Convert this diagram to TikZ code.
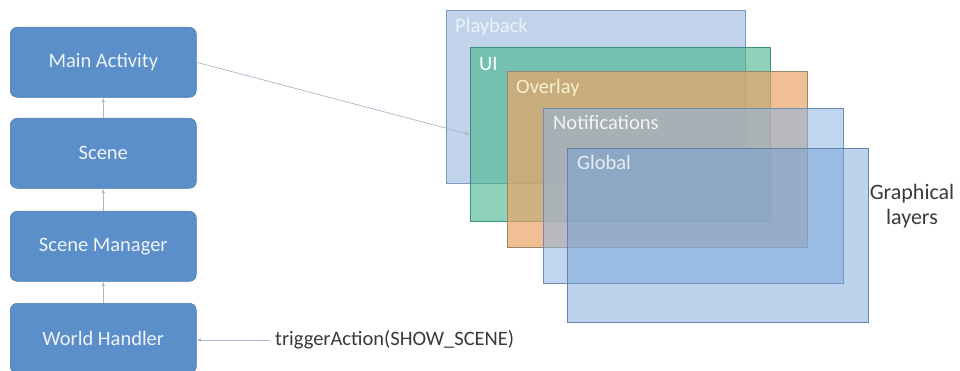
\documentclass[tikz,border=0pt]{standalone}
\usepackage{fontspec}
\setmainfont{Carlito}
\usetikzlibrary{arrows.meta}
\begin{document}
\begin{tikzpicture}[x=1pt,y=-1pt,
  blk/.style={draw=boxedge, fill=boxfill, rounded corners=7pt, line width=0.6pt,
    minimum width=186pt, minimum height=70pt, anchor=north west, inner sep=0pt,
    text=boxtext, font=\fontsize{20.5}{24}\selectfont},
  layer/.style={anchor=north west, inner sep=0pt, line width=1pt},
  lbl/.style={anchor=north west, inner sep=0pt, font=\fontsize{20.5}{24}\selectfont},
  conn/.style={draw=conncol, line width=0.7pt, -{Latex[length=4.5pt,width=3.5pt]}},
  note/.style={text=notecol, font=\fontsize{20.5}{25}\selectfont}
]
\definecolor{boxfill}{HTML}{5B8FC9}
\definecolor{boxedge}{HTML}{4A7AB0}
\definecolor{boxtext}{HTML}{EEF3F9}
\definecolor{conncol}{HTML}{A9B9CC}
\definecolor{notecol}{HTML}{3A3A3A}
\definecolor{pbfill}{HTML}{B7CBE8}
\definecolor{pbedge}{HTML}{7E9BC4}
\definecolor{uifill}{HTML}{45B48C}
\definecolor{uiedge}{HTML}{3C8F7C}
\definecolor{ovfill}{HTML}{EBA466}
\definecolor{ovedge}{HTML}{8E8A6A}
\definecolor{ovtext}{HTML}{F5F0CF}
\definecolor{nofill}{HTML}{8DB4E2}
\definecolor{noedge}{HTML}{6E8DB3}
\definecolor{glfill}{HTML}{6E9FD8}
\definecolor{gledge}{HTML}{5F82AE}
\useasboundingbox (0,0) rectangle (960,371);
\fill[white] (0,0) rectangle (960,371);

% left column
\node[blk] (main) at (10,27) {Main Activity};
\node[blk] (scene) at (10,118) {Scene};
\node[blk] (mgr) at (10,211) {Scene Manager};
\node[blk] (world) at (10,303) {World Handler};

\draw[conn] (scene.north) -- (main.south);
\draw[conn] (mgr.north) -- (scene.south);
\draw[conn] (world.north) -- (mgr.south);

% layers
\node[layer, draw=pbedge, fill=pbfill, fill opacity=0.85, minimum width=299pt, minimum height=173pt] (pb) at (446,10) {};
\node[lbl, text=white, text opacity=0.7] (pbl) at (455,18) {Playback};
\node[layer, draw=uiedge, fill=uifill, fill opacity=0.6, minimum width=300pt, minimum height=174pt] (ui) at (470,47) {};
\node[lbl, text=white] (uil) at (479,57) {UI};
\node[layer, draw=ovedge, fill=ovfill, fill opacity=0.7, minimum width=300pt, minimum height=176pt] (ov) at (507,71) {};
\node[lbl, text=ovtext] (ovl) at (516,79) {Overlay};
\node[layer, draw=noedge, fill=nofill, fill opacity=0.55, minimum width=300pt, minimum height=175pt] (no) at (543,108) {};
\node[lbl, text=white, text opacity=0.85] (nol) at (553,115) {Notifications};
\node[layer, draw=gledge, fill=glfill, fill opacity=0.45, minimum width=301pt, minimum height=174pt] (gl) at (567,148) {};
\node[lbl, text=white, text opacity=0.8] (gll) at (577,155) {Global};

\draw[conn] (main.east) -- (ui.west);

% notes
\node[note, align=center, font=\fontsize{22}{25}\selectfont] (graph) at (912,206) {Graphical\\layers};
\node[note, anchor=west, inner sep=0pt] (trig) at (275,340) {triggerAction(SHOW\_SCENE)};
\draw[conn] ([xshift=-5pt]trig.west) -- (world.east |- trig.west);
\end{tikzpicture}
\end{document}
